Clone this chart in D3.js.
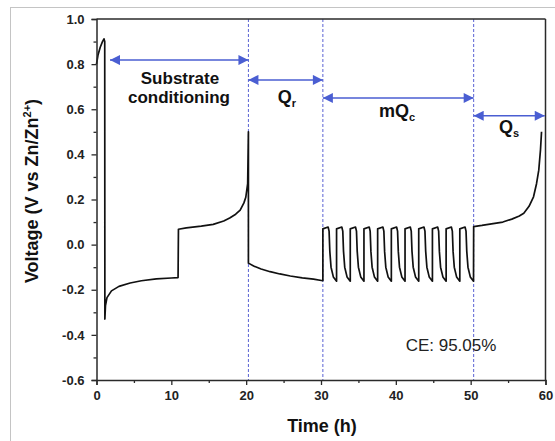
<!DOCTYPE html>
<html>
<head>
<meta charset="utf-8">
<script src="https://cdn.jsdelivr.net/npm/d3@7"></script>
<style>
  body { margin: 0; background: #fff; }
  svg { display: block; font-family: "Liberation Sans", Arial, sans-serif; }
</style>
</head>
<body>
<svg id="chart" width="555" height="441"></svg>
<script>
// ---- data: [time (h), voltage (V)] ----
const conditioningCurve = [
  [0, 0.80], [0.2, 0.84], [0.5, 0.875], [0.8, 0.90], [1.0, 0.912], [1.1, 0.90],
  [1.12, -0.33], [1.2, -0.27], [1.4, -0.235], [2.0, -0.205], [3.0, -0.185],
  [4.5, -0.17], [6.0, -0.16], [8.0, -0.152], [10.0, -0.148], [10.9, -0.146],
  [10.95, 0.068], [12.0, 0.074], [14.0, 0.082], [15.6, 0.09], [17.0, 0.105],
  [17.8, 0.118], [18.6, 0.135], [19.2, 0.153], [19.7, 0.185], [19.95, 0.21],
  [20.2, 0.27], [20.3, 0.50]
];
const reservoirCurve = [
  [20.3, -0.082], [21.0, -0.095], [22.0, -0.108], [23.2, -0.12], [24.5, -0.13],
  [25.9, -0.139], [27.5, -0.147], [29.0, -0.153], [30.25, -0.160]
];
const cyclingCurve = [
  [30.25, 0.070], [30.95, 0.078], [31.08, 0.060], [31.18, -0.030], [31.34, -0.100], [31.65, -0.143], [32.08, -0.162],
  [32.08, 0.070], [32.78, 0.078], [32.91, 0.060], [33.01, -0.030], [33.17, -0.100], [33.48, -0.143], [33.91, -0.162],
  [33.91, 0.070], [34.61, 0.078], [34.74, 0.060], [34.84, -0.030], [35.00, -0.100], [35.31, -0.143], [35.74, -0.162],
  [35.74, 0.070], [36.44, 0.078], [36.57, 0.060], [36.67, -0.030], [36.83, -0.100], [37.14, -0.143], [37.57, -0.162],
  [37.57, 0.070], [38.27, 0.078], [38.40, 0.060], [38.50, -0.030], [38.66, -0.100], [38.97, -0.143], [39.40, -0.162],
  [39.40, 0.070], [40.10, 0.078], [40.23, 0.060], [40.33, -0.030], [40.49, -0.100], [40.80, -0.143], [41.23, -0.162],
  [41.23, 0.070], [41.93, 0.078], [42.06, 0.060], [42.16, -0.030], [42.32, -0.100], [42.63, -0.143], [43.06, -0.162],
  [43.06, 0.070], [43.76, 0.078], [43.89, 0.060], [43.99, -0.030], [44.15, -0.100], [44.46, -0.143], [44.89, -0.162],
  [44.89, 0.070], [45.59, 0.078], [45.72, 0.060], [45.82, -0.030], [45.98, -0.100], [46.29, -0.143], [46.72, -0.162],
  [46.72, 0.070], [47.42, 0.078], [47.55, 0.060], [47.65, -0.030], [47.81, -0.100], [48.12, -0.143], [48.55, -0.162],
  [48.55, 0.070], [49.25, 0.078], [49.38, 0.060], [49.48, -0.030], [49.64, -0.100], [49.95, -0.143], [50.38, -0.162]
];
const strippingCurve = [
  [50.4, 0.080], [51.5, 0.085], [53.0, 0.093], [54.3, 0.10], [55.5, 0.113],
  [56.5, 0.127], [57.1, 0.139], [57.8, 0.17], [58.4, 0.212], [58.8, 0.27],
  [59.1, 0.33], [59.33, 0.42], [59.47, 0.50]
];

const xTicks = [0, 10, 20, 30, 40, 50, 60];
const xMinorTicks = [5, 15, 25, 35, 45, 55];
const yTicks = [-0.6, -0.4, -0.2, 0.0, 0.2, 0.4, 0.6, 0.8, 1.0];
const yMinorTicks = [-0.5, -0.3, -0.1, 0.1, 0.3, 0.5, 0.7, 0.9];

// stage boundaries (h) and the double arrows spanning each stage
const stageBounds = [20.3, 30.25, 50.4];
const stageArrows = [
  { from: 1.8, to: 20.3, v: 0.818 },
  { from: 20.3, to: 30.25, v: 0.73 },
  { from: 30.25, to: 50.4, v: 0.65 },
  { from: 50.4, to: 59.9, v: 0.571 }
];

// ---- layout ----
const svg = d3.select("#chart");
const plotLeft = 96.5, plotRight = 545.5, plotTop = 19, plotBottom = 380;

const x = d3.scaleLinear().domain([0, 60]).range([plotLeft, plotRight]);
const y = d3.scaleLinear().domain([-0.6, 1.0]).range([plotBottom, plotTop]);

const blue = "#4a5ed2";
const axisColor = "#2a2a2a";

// light outer frame of the figure
svg.append("rect")
  .attr("x", 10.5).attr("y", 7.5)
  .attr("width", 600).attr("height", 500)
  .attr("fill", "none").attr("stroke", "#c4c4c4").attr("stroke-width", 1);

// arrow head marker
svg.append("defs").append("marker")
  .attr("id", "head")
  .attr("viewBox", "0 0 10 10")
  .attr("refX", 10).attr("refY", 5)
  .attr("markerWidth", 11).attr("markerHeight", 10)
  .attr("markerUnits", "userSpaceOnUse")
  .attr("orient", "auto-start-reverse")
  .append("path")
  .attr("d", "M0,0 L10,5 L0,10 Z")
  .attr("fill", blue);

// dashed stage lines
svg.selectAll(".stage")
  .data(stageBounds)
  .enter().append("line")
  .attr("x1", d => x(d)).attr("x2", d => x(d))
  .attr("y1", plotTop).attr("y2", plotBottom)
  .attr("stroke", "#5a62d4")
  .attr("stroke-width", 1)
  .attr("stroke-dasharray", "3,2");

// voltage curve
const allPoints = conditioningCurve.concat(reservoirCurve, cyclingCurve, strippingCurve);
const line = d3.line().x(d => x(d[0])).y(d => y(d[1]));
svg.append("path")
  .datum(allPoints)
  .attr("d", line)
  .attr("fill", "none")
  .attr("stroke", "#111")
  .attr("stroke-width", 1.7)
  .attr("stroke-linejoin", "round");

// axes (labels use a plain hyphen as in the original)
const xAxis = svg.append("g")
  .attr("transform", `translate(0,${plotBottom})`)
  .call(d3.axisBottom(x).tickValues(xTicks).tickSize(5).tickFormat(d => String(d)));
svg.append("g")
  .attr("transform", `translate(0,${plotBottom})`)
  .call(d3.axisBottom(x).tickValues(xMinorTicks).tickSize(3).tickFormat(""))
  .call(g => g.select(".domain").remove());

const yAxis = svg.append("g")
  .attr("transform", `translate(${plotLeft},0)`)
  .call(d3.axisLeft(y).tickValues(yTicks).tickSize(5).tickFormat(d => d.toFixed(1)));
svg.append("g")
  .attr("transform", `translate(${plotLeft},0)`)
  .call(d3.axisLeft(y).tickValues(yMinorTicks).tickSize(3).tickFormat(""))
  .call(g => g.select(".domain").remove());

svg.selectAll(".domain").attr("stroke", axisColor).attr("stroke-width", 1.5);
svg.selectAll(".tick line").attr("stroke", axisColor).attr("stroke-width", 1.3);
svg.selectAll(".tick text")
  .attr("fill", "#222")
  .style("font-size", "13px")
  .style("font-weight", "bold")
  .style("font-family", "'Liberation Sans', Arial, sans-serif");
xAxis.selectAll(".tick text").attr("y", 11);
yAxis.selectAll(".tick text").attr("x", -12);

// top and right frame
svg.append("line")
  .attr("x1", plotLeft).attr("x2", plotRight).attr("y1", plotTop).attr("y2", plotTop)
  .attr("stroke", axisColor).attr("stroke-width", 1.5);
svg.append("line")
  .attr("x1", plotRight).attr("x2", plotRight).attr("y1", plotTop).attr("y2", plotBottom)
  .attr("stroke", axisColor).attr("stroke-width", 1.5);

// stage arrows
svg.selectAll(".arrow")
  .data(stageArrows)
  .enter().append("line")
  .attr("x1", d => x(d.from)).attr("x2", d => x(d.to))
  .attr("y1", d => y(d.v)).attr("y2", d => y(d.v))
  .attr("stroke", blue)
  .attr("stroke-width", 1.5)
  .attr("marker-start", "url(#head)")
  .attr("marker-end", "url(#head)");

// stage labels
const label = (px, py, size) => svg.append("text")
  .attr("x", px).attr("y", py)
  .attr("text-anchor", "middle")
  .attr("fill", "#111")
  .style("font-size", size + "px")
  .style("font-weight", "bold");

label(180, 84, 17).text("Substrate");
label(179, 103, 17).text("conditioning");

const qr = label(287, 103, 18);
qr.append("tspan").text("Q");
qr.append("tspan").attr("dy", 4).style("font-size", "11px").text("r");

const mqc = label(397, 117, 18);
mqc.append("tspan").text("mQ");
mqc.append("tspan").attr("dy", 4).style("font-size", "11px").text("c");

const qs = label(509, 133, 18);
qs.append("tspan").text("Q");
qs.append("tspan").attr("dy", 4).style("font-size", "11px").text("s");

svg.append("text")
  .attr("x", 451).attr("y", 351)
  .attr("text-anchor", "middle")
  .attr("fill", "#222")
  .style("font-size", "17px")
  .text("CE: 95.05%");

// axis titles
svg.append("text")
  .attr("x", 322).attr("y", 432)
  .attr("text-anchor", "middle")
  .attr("fill", "#111")
  .style("font-size", "18px")
  .style("font-weight", "bold")
  .text("Time (h)");

const yTitle = svg.append("text")
  .attr("transform", "translate(38,191) rotate(-90)")
  .attr("text-anchor", "middle")
  .attr("fill", "#111")
  .style("font-size", "18px")
  .style("font-weight", "bold");
yTitle.append("tspan").text("Voltage (V vs Zn/Zn");
yTitle.append("tspan").attr("dy", -7).style("font-size", "11px").text("2+");
yTitle.append("tspan").attr("dy", 7).text(")");
</script>
</body>
</html>
